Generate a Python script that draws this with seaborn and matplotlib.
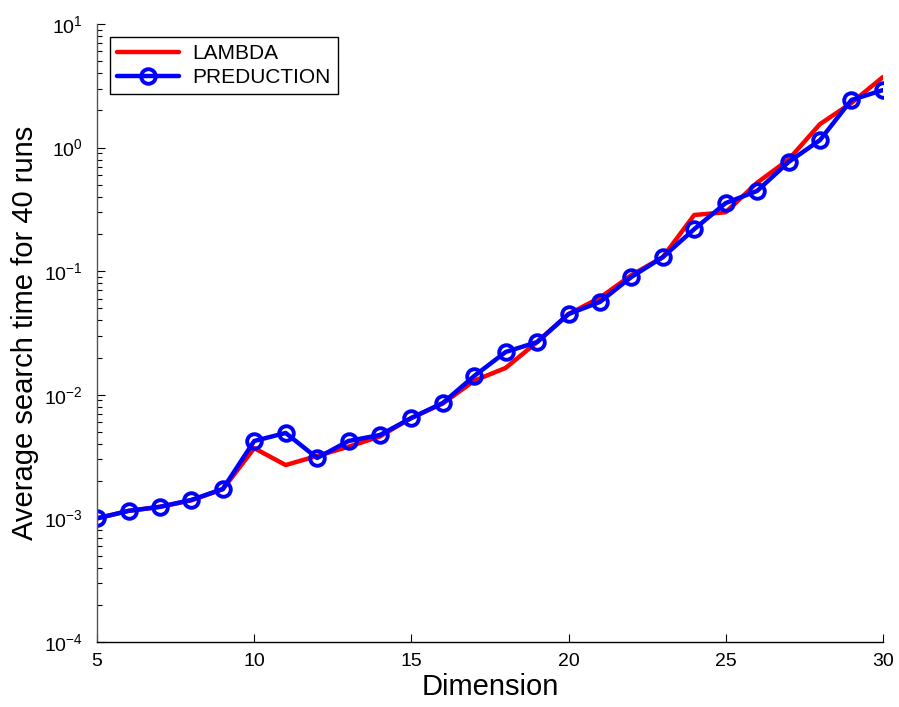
import pandas as pd
import numpy as np
import matplotlib
matplotlib.use('Agg')
import matplotlib.pyplot as plt
import seaborn as sns

# search time data
dimension = list(range(5, 31))
lambda_time = [1.0e-3, 1.15e-3, 1.24e-3, 1.40e-3, 1.72e-3, 3.7e-3, 2.7e-3, 3.2e-3, 3.8e-3, 4.6e-3,
               6.5e-3, 8.5e-3, 1.3e-2, 1.65e-2, 2.67e-2, 4.5e-2, 6.1e-2, 9.3e-2, 0.130, 0.285,
               0.30, 0.52, 0.80, 1.55, 2.3, 3.72]
prediction_time = [1.0e-3, 1.15e-3, 1.24e-3, 1.41e-3, 1.73e-3, 4.23e-3, 4.91e-3, 3.08e-3, 4.23e-3, 4.73e-3,
                   6.49e-3, 8.59e-3, 1.42e-2, 2.22e-2, 2.67e-2, 4.5e-2, 5.64e-2, 8.98e-2, 0.130, 0.219,
                   0.356, 0.446, 0.764, 1.15, 2.43, 2.92]

df = pd.DataFrame({'Dimension': dimension, 'LAMBDA': lambda_time, 'PREDUCTION': prediction_time})

sns.set_style('ticks')
plt.rcParams['font.family'] = ['Liberation Sans', 'DejaVu Sans']
plt.rcParams['mathtext.fontset'] = 'custom'
plt.rcParams['mathtext.rm'] = 'Liberation Sans'
plt.rcParams['mathtext.it'] = 'Liberation Sans'
plt.rcParams['xtick.direction'] = 'in'
plt.rcParams['ytick.direction'] = 'in'
plt.rcParams['text.color'] = 'black'
plt.rcParams['axes.labelcolor'] = 'black'
plt.rcParams['xtick.color'] = 'black'
plt.rcParams['ytick.color'] = 'black'

fig = plt.figure(figsize=(8.99, 7.07), dpi=100)
ax = fig.add_axes([0.108, 0.092, 0.874, 0.874])

sns.lineplot(data=df, x='Dimension', y='LAMBDA', ax=ax, color='#ff0000', linewidth=3.2, label='LAMBDA')
sns.lineplot(data=df, x='Dimension', y='PREDUCTION', ax=ax, color='#0000ff', linewidth=3.2,
             marker='o', markersize=10.5, markerfacecolor='none', markeredgecolor='#0000ff',
             markeredgewidth=2.8, label='PREDUCTION')

ax.set_yscale('log')
ax.set_xlim(5, 30)
ax.set_ylim(1e-4, 1e1)
ax.set_xticks([5, 10, 15, 20, 25, 30])
ax.set_xlabel('Dimension', fontsize=21, labelpad=2)
ax.set_ylabel('Average search time for 40 runs', fontsize=21, labelpad=4)
ax.tick_params(axis='x', which='major', labelsize=14, length=6, width=0.8, pad=8)
ax.tick_params(axis='y', which='major', labelsize=14, length=6, width=0.8, pad=10)
ax.yaxis.set_minor_locator(matplotlib.ticker.LogLocator(base=10, subs=np.arange(2, 10)))
ax.yaxis.set_minor_formatter(matplotlib.ticker.NullFormatter())
ax.tick_params(axis='y', which='minor', left=True, length=3.5, width=0.8, color='black')
for s in ['top', 'right']:
    ax.spines[s].set_visible(False)
for s in ['left', 'bottom']:
    ax.spines[s].set_linewidth(1.0)
    ax.spines[s].set_color('black')
ax.spines['left'].set_color('#555555')

leg = ax.legend(loc='upper left', fontsize=15, frameon=True, fancybox=False, handlelength=3,
                borderaxespad=0.6, borderpad=0.35, labelspacing=0.25, handletextpad=0.6)
leg.get_frame().set_edgecolor('black')
leg.get_frame().set_linewidth(1.0)
leg.get_frame().set_alpha(1)

fig.savefig('out.png', dpi=100)
